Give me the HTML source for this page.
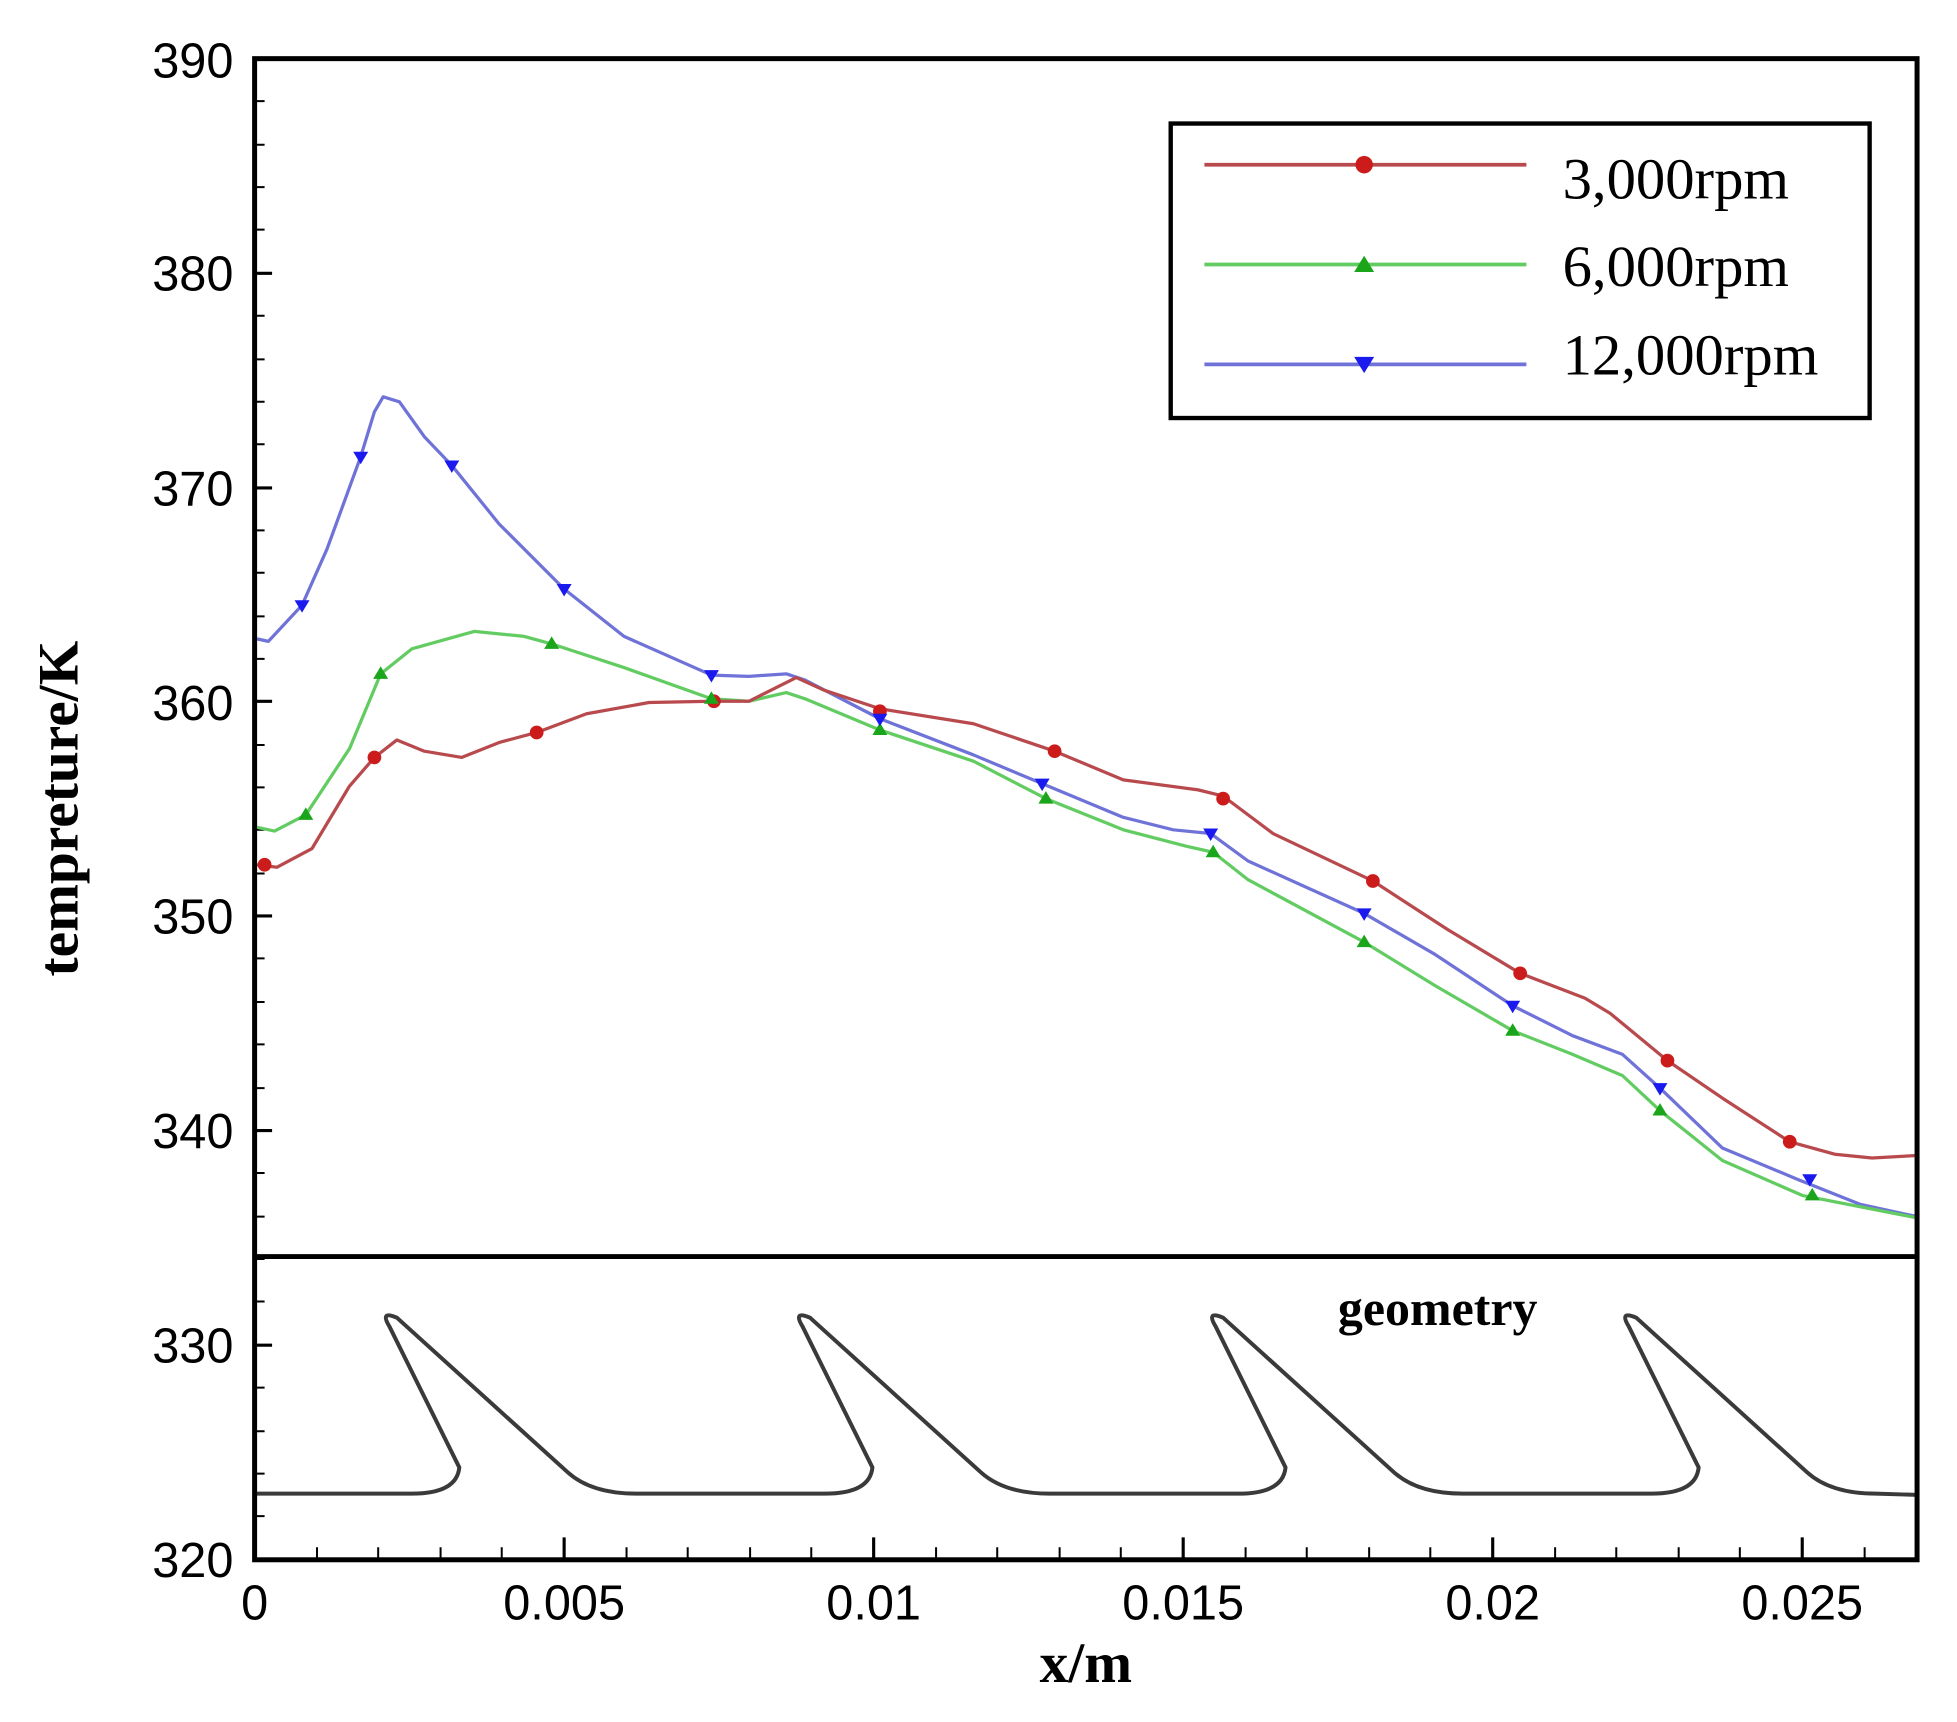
<!DOCTYPE html>
<html><head><meta charset="utf-8"><style>
html,body{margin:0;padding:0;background:#fff;}
svg{display:block;}
</style></head><body>
<svg width="1957" height="1722" viewBox="0 0 1568 1380" preserveAspectRatio="none" xmlns="http://www.w3.org/2000/svg">
<rect width="1568" height="1380" fill="#fff"/>
<g stroke="#000" stroke-width="2.5">
<path d="M204 219h14M204 391h14M204 562h14M204 734h14M204 906h14M204 1078h14"/>
<path stroke-width="1.6" d="M204 81h8M204 116h8M204 150h8M204 184h8M204 253h8M204 288h8M204 322h8M204 356h8M204 425h8M204 459h8M204 494h8M204 528h8M204 597h8M204 631h8M204 665h8M204 700h8M204 768h8M204 803h8M204 837h8M204 872h8M204 940h8M204 975h8M204 1009h8M204 1043h8M204 1112h8M204 1147h8M204 1181h8M204 1215h8"/>
<path d="M452 1250v-18M700 1250v-18M948 1250v-18M1196 1250v-18M1444 1250v-18"/>
<path stroke-width="1.6" d="M254 1250v-10M303 1250v-10M353 1250v-10M402 1250v-10M502 1250v-10M551 1250v-10M601 1250v-10M650 1250v-10M750 1250v-10M799 1250v-10M849 1250v-10M898 1250v-10M998 1250v-10M1047 1250v-10M1097 1250v-10M1146 1250v-10M1246 1250v-10M1295 1250v-10M1345 1250v-10M1394 1250v-10M1494 1250v-10"/>
</g>
<g fill="none" stroke="#3a3a3a" stroke-width="3.2" stroke-linejoin="round">
<path d="M204 1197 L330 1197 Q366 1197 368 1176 L312 1063 Q304 1050 318 1056 L455 1180 Q474 1197 510 1197 L661 1197 Q697 1197 699 1176 L643 1063 Q635 1050 649 1056 L786 1180 Q805 1197 841 1197 L992 1197 Q1028 1197 1030 1176 L974 1063 Q966 1050 980 1056 L1117 1180 Q1136 1197 1172 1197 L1323 1197 Q1359 1197 1361 1176 L1305 1063 Q1297 1050 1311 1056 L1448 1180 Q1467 1197 1503 1197 L1536 1198"/>
</g>
<g fill="none" stroke-width="2.6" stroke-linejoin="round">
<polyline stroke="#6f73d8" points="206,512 215,514 242,485 262,440 289,366 300,330 307,318 320,322 340,350 362,373 400,420 452,472 500,510 570,541 600,542 630,540 645,545 705,576 780,605 835,628 900,655 940,665 970,668 1000,690 1093,732 1150,765 1212,806 1260,830 1300,845 1330,872 1380,920 1440,945 1490,965 1536,975"/>
<polyline stroke="#62cc62" points="206,663 220,666 245,653 280,600 305,540 330,520 380,506 420,510 442,516 500,535 570,560 600,562 630,555 645,560 705,585 780,610 838,640 900,665 950,678 972,683 1000,705 1093,755 1150,790 1212,826 1260,845 1300,862 1330,890 1380,930 1444,958 1536,976"/>
<polyline stroke="#b84a4e" points="206,693 222,695 250,680 280,630 300,607 318,593 340,602 370,607 400,595 430,587 470,572 520,563 570,562 600,562 638,543 660,553 705,568 780,580 845,602 900,625 960,633 980,638 1020,668 1100,706 1160,745 1218,780 1270,800 1290,812 1336,850 1380,880 1434,915 1470,925 1500,928 1536,926"/>
</g>
<g fill="#cc1b1b">
<circle cx="212" cy="693" r="5.5"/><circle cx="300" cy="607" r="5.5"/><circle cx="430" cy="587" r="5.5"/><circle cx="572" cy="562" r="5.5"/><circle cx="705" cy="570" r="5.5"/><circle cx="845" cy="602" r="5.5"/><circle cx="980" cy="640" r="5.5"/><circle cx="1100" cy="706" r="5.5"/><circle cx="1218" cy="780" r="5.5"/><circle cx="1336" cy="850" r="5.5"/><circle cx="1434" cy="915" r="5.5"/>
</g>
<g fill="#1aa51a">
<path d="M245 647l6 10h-12z M305 534l6 10h-12z M442 510l6 10h-12z M570 554l6 10h-12z M705 579l6 10h-12z M838 634l6 10h-12z M972 677l6 10h-12z M1093 749l6 10h-12z M1212 820l6 10h-12z M1330 884l6 10h-12z M1452 952l6 10h-12z"/>
</g>
<g fill="#1a1aee">
<path d="M242 491l6 -10h-12z M289 372l6 -10h-12z M362 379l6 -10h-12z M452 478l6 -10h-12z M570 547l6 -10h-12z M705 582l6 -10h-12z M835 634l6 -10h-12z M970 674l6 -10h-12z M1093 738l6 -10h-12z M1212 812l6 -10h-12z M1330 878l6 -10h-12z M1450 951l6 -10h-12z"/>
</g>
<rect x="204" y="47" width="1332" height="1203" fill="none" stroke="#000" stroke-width="4"/>
<line x1="204" y1="1007" x2="1536" y2="1007" stroke="#000" stroke-width="4"/>
<rect x="938" y="99" width="560" height="236" fill="#fff" stroke="#000" stroke-width="3.5"/>
<line x1="965" y1="132" x2="1223" y2="132" stroke="#b84a4e" stroke-width="3"/>
<line x1="965" y1="212" x2="1223" y2="212" stroke="#62cc62" stroke-width="3"/>
<line x1="965" y1="292" x2="1223" y2="292" stroke="#6f73d8" stroke-width="3"/>
<circle cx="1093" cy="132" r="7" fill="#cc1b1b"/>
<path d="M1093 205l8 13h-16z" fill="#1aa51a"/>
<path d="M1093 299l8 -13h-16z" fill="#1a1aee"/>
<g font-family="Liberation Serif, serif" font-size="47" fill="#000">
<text x="1252" y="159">3,000rpm</text>
<text x="1252" y="229">6,000rpm</text>
<text x="1252" y="300">12,000rpm</text>
</g>
<text x="1072" y="1062" font-family="Liberation Serif, serif" font-weight="bold" font-size="40">geometry</text>
<g font-family="Liberation Sans, sans-serif" font-size="39" fill="#000" text-anchor="end">
<text x="187" y="62">390</text><text x="187" y="233">380</text><text x="187" y="405">370</text><text x="187" y="577">360</text><text x="187" y="748">350</text><text x="187" y="920">340</text><text x="187" y="1092">330</text><text x="187" y="1264">320</text>
</g>
<g font-family="Liberation Sans, sans-serif" font-size="39" fill="#000" text-anchor="middle">
<text x="204" y="1298">0</text><text x="452" y="1298">0.005</text><text x="700" y="1298">0.01</text><text x="948" y="1298">0.015</text><text x="1196" y="1298">0.02</text><text x="1444" y="1298">0.025</text>
</g>
<text x="870" y="1348" text-anchor="middle" font-family="Liberation Serif, serif" font-weight="bold" font-size="46">x/m</text>
<text transform="translate(62,648) rotate(-90)" text-anchor="middle" font-family="Liberation Serif, serif" font-weight="bold" font-size="46">tempreture/K</text>
</svg>
</body></html>
